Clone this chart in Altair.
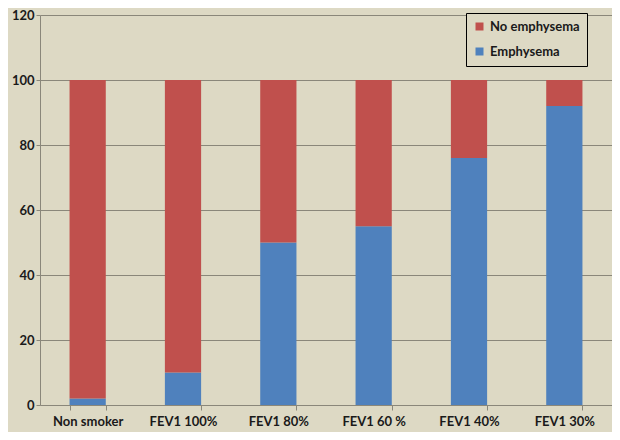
import altair as alt
import pandas as pd

categories = ["Non smoker", "FEV1 100%", "FEV1 80%", "FEV1 60 %", "FEV1 40%", "FEV1 30%"]
emphysema = [2, 10, 50, 55, 76, 92]
no_emphysema = [98, 90, 50, 45, 24, 8]
series = ["No emphysema", "Emphysema"]
colors = ["#c0504d", "#4f81bd"]
y_ticks = [0, 20, 40, 60, 80, 100, 120]

rows = []
for c, e, n in zip(categories, emphysema, no_emphysema):
    rows.append({"cat": c, "series": "Emphysema", "value": e, "ord": 0})
    rows.append({"cat": c, "series": "No emphysema", "value": n, "ord": 1})
df = pd.DataFrame(rows)

BG = "#ddd9c4"
FONT = "Lato"

chart = alt.Chart(df).mark_bar().encode(
    x=alt.X("cat:N", sort=categories, title=None,
            scale=alt.Scale(paddingInner=0.62, paddingOuter=0.31),
            axis=alt.Axis(labelAngle=0, tickBand="extent", grid=False,
                          domainColor="#8a877a", tickColor="#8a877a", tickSize=5,
                          labelFont=FONT, labelFontWeight="bold", labelFontSize=13,
                          labelColor="#1a1a1a", labelPadding=5)),
    y=alt.Y("value:Q", stack="zero", title=None,
            scale=alt.Scale(domain=[0, 120], nice=False),
            axis=alt.Axis(values=y_ticks, grid=True, gridColor="#8a877a", gridWidth=1,
                          domainColor="#8a877a", tickColor="#8a877a", tickSize=4,
                          labelFont=FONT, labelFontWeight="bold", labelFontSize=13,
                          labelColor="#1a1a1a", labelPadding=2)),
    color=alt.Color("series:N", scale=alt.Scale(domain=series, range=colors),
                    legend=alt.Legend(title=None, orient="none", legendX=426, legendY=-2,
                                      strokeColor="#000000", padding=7,
                                      symbolType="square", symbolSize=64,
                                      symbolStrokeWidth=0, rowPadding=11,
                                      labelFont=FONT, labelFontWeight="bold",
                                      labelFontSize=13, labelColor="#1a1a1a",
                                      fillColor=BG)),
    order=alt.Order("ord:Q"),
).properties(
    width=572, height=390,
    background=BG,
    padding={"left": 32, "top": 7, "right": 0, "bottom": 27},
    autosize=alt.AutoSizeParams(type="none"),
).configure_view(stroke=None, fill=BG)

chart.save("out.html", embed_options={"renderer": "svg", "actions": False})
